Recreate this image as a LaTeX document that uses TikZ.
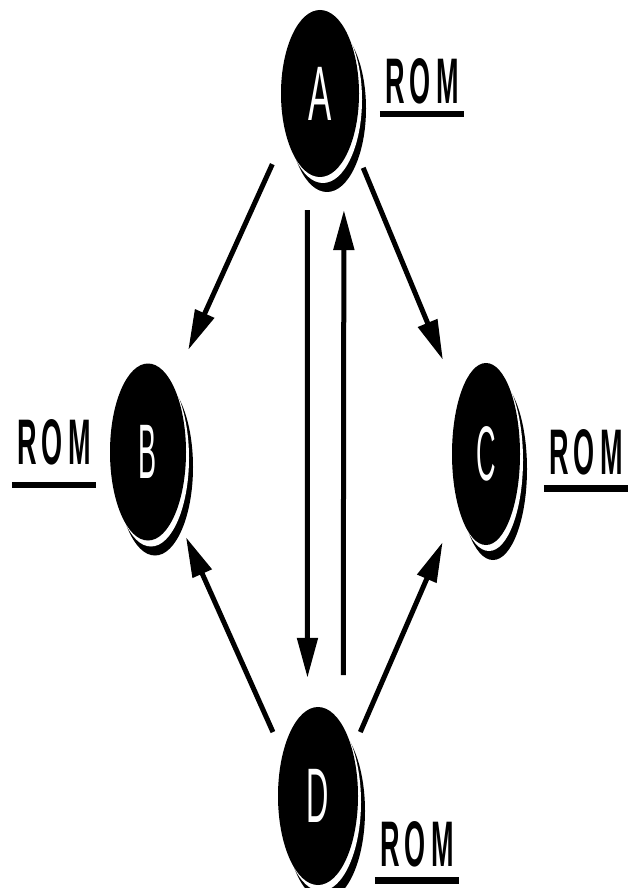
\documentclass[tikz,border=0pt]{standalone}
\usepackage{fontspec}
\setmainfont{Liberation Sans}
\usetikzlibrary{arrows.meta,shapes.geometric,shadows}

% squeeze text horizontally
\newcommand{\slimtext}[2]{\scalebox{#1}[1]{#2}}
% spaced-out label text
\newcommand{\romtext}{\slimtext{.42}{R\kern.2em O\kern.2em M}}

\tikzset{
  disc/.style={ellipse, fill=black, text=white, inner sep=0pt, outer sep=0pt,
    general shadow={fill=black, shadow xshift=2.1mm, shadow yshift=-4.5mm},
    general shadow={fill=white, shadow xshift=0.9mm, shadow yshift=-1.8mm},
    font=\fontsize{66}{66}\selectfont},
  rom/.style={font=\bfseries\fontsize{55}{55}\selectfont, inner xsep=1.5mm, inner ysep=4mm},
  romline/.style={line width=2mm},
  link/.style={line width=1.5mm, -{Triangle[length=12mm,width=6mm]}},
}

\begin{document}
\begin{tikzpicture}[x=0.3mm, y=-0.3mm]
\useasboundingbox (0,0) rectangle (629,888);

% discs
\node[disc, minimum width=23.4mm, minimum height=50.1mm] (a) at (320,93.5) {\slimtext{.45}{A}};
\node[disc, minimum width=22.8mm, minimum height=53.1mm] (b) at (148,452) {\slimtext{.35}{B}};
\node[disc, minimum width=20.4mm, minimum height=54.6mm] (c) at (486,454) {\slimtext{.35}{C}};
\node[disc, minimum width=24mm, minimum height=53.4mm] (d) at (318,796) {\slimtext{.4}{D}};

% ROM labels
\node[rom, inner ysep=3mm] (ra) at (422,81) {\romtext};
\node[rom, inner ysep=6mm] (rb) at (54,442) {\romtext};
\node[rom] (rc) at (586,452) {\romtext};
\node[rom] (rd) at (417,844) {\romtext};
\foreach \r in {ra,rb,rc,rd}
  \draw[romline] (\r.south west) -- (\r.south east);

% arrows
\draw[link, shorten <=9.9mm, shorten >=11.4mm] (a.230) -- (b.70);
\draw[link, shorten <=8.7mm, shorten >=12.6mm] (a.304) -- (c.116);
\draw[link, shorten <=11.3mm, shorten >=9.7mm] (a.261) -- (d.97);
\draw[link, shorten <=15.5mm, shorten >=15.2mm] (d.70) -- (a.290);
\draw[link, shorten <=7.2mm, shorten >=7.8mm] (d.130) -- (b.294);
\draw[link, shorten <=6mm, shorten >=11.7mm] (d.53) -- (c.242);
\end{tikzpicture}
\end{document}
